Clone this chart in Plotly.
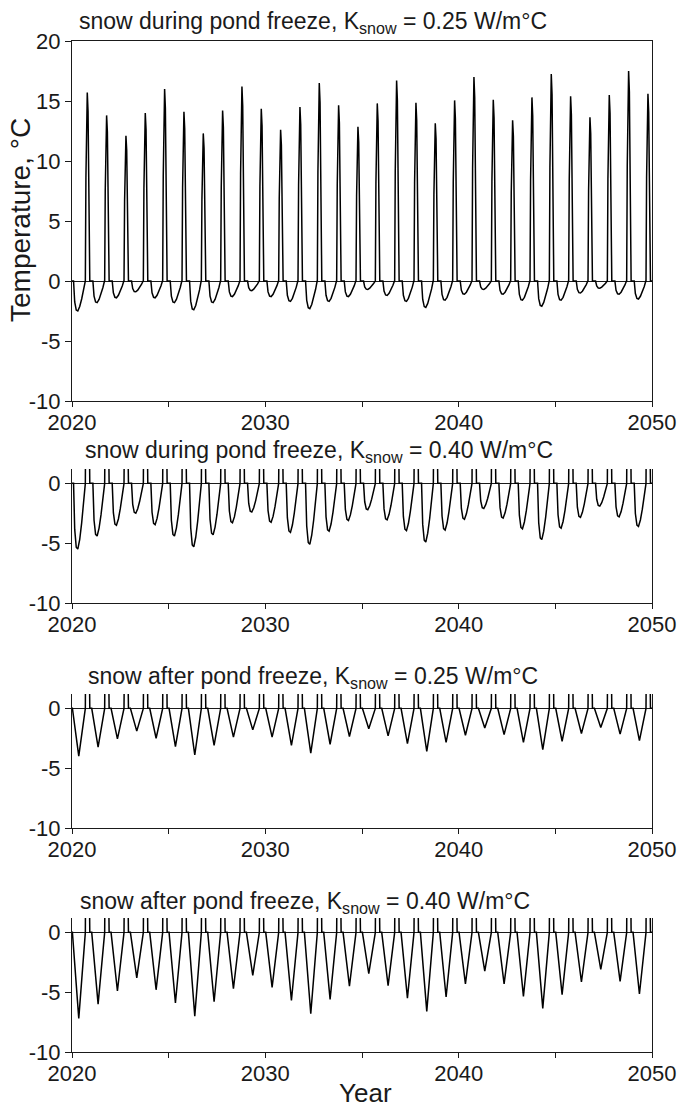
import plotly.graph_objects as go

# ---------------- data ----------------
years = list(range(2020, 2050))

# summer maximum temperature each year (top panel; same summers in all runs)
summer_peak = [15.7, 13.8, 12.1, 14.0, 16.0, 14.1, 12.3, 14.2, 16.2, 14.35,
               12.6, 14.5, 16.5, 14.65, 12.85, 14.8, 16.7, 14.85, 13.15, 15.05,
               17.0, 15.1, 13.4, 15.3, 17.25, 15.4, 13.65, 15.5, 17.5, 15.6]

# winter minimum temperature each year, one list per scenario
winter_min_during_025 = [-2.5, -1.8, -1.4, -0.9, -1.4, -1.8, -2.4, -1.8, -1.3, -0.8,
                         -1.3, -1.7, -2.3, -1.7, -1.3, -0.7, -1.2, -1.7, -2.2, -1.6,
                         -1.1, -0.7, -1.1, -1.6, -2.1, -1.6, -1.0, -0.6, -1.1, -1.5]
winter_min_during_040 = [-5.5, -4.4, -3.5, -2.5, -3.45, -4.4, -5.3, -4.3, -3.3, -2.4,
                         -3.25, -4.1, -5.1, -4.0, -3.1, -2.2, -3.05, -3.95, -4.9, -3.9,
                         -3.0, -2.1, -2.9, -3.8, -4.7, -3.75, -2.85, -1.9, -2.8, -3.6]
winter_min_after_025 = [-4.0, -3.25, -2.55, -1.9, -2.5, -3.2, -3.9, -3.1, -2.4, -1.8,
                        -2.4, -3.1, -3.75, -3.0, -2.35, -1.7, -2.3, -2.95, -3.6, -2.85,
                        -2.25, -1.65, -2.2, -2.85, -3.45, -2.75, -2.1, -1.6, -2.15, -2.7]
winter_min_after_040 = [-7.2, -6.0, -4.9, -3.8, -4.8, -5.9, -7.0, -5.8, -4.7, -3.6,
                        -4.6, -5.7, -6.8, -5.6, -4.5, -3.45, -4.45, -5.5, -6.6, -5.4,
                        -4.3, -3.25, -4.3, -5.35, -6.35, -5.2, -4.15, -3.1, -4.1, -5.15]

# annual cycle shape (fraction of the year, fraction of the extreme)
dip_during_t = [0.08, 0.14, 0.22, 0.30, 0.40, 0.50, 0.60, 0.68]
dip_during_f = [0.0, 0.70, 0.97, 1.0, 0.85, 0.60, 0.30, 0.0]
dip_after_t = [0.02, 0.35, 0.69]
dip_after_f = [0.0, 1.0, 0.0]
spike_t = [0.69, 0.72, 0.75, 0.79, 0.83, 0.87, 0.92]
spike_f = [0.0, 0.55, 0.90, 1.0, 0.90, 0.50, 0.0]

titles = ["snow during pond freeze, K<sub>snow</sub> = 0.25 W/m°C",
          "snow during pond freeze, K<sub>snow</sub> = 0.40 W/m°C",
          "snow after pond freeze, K<sub>snow</sub> = 0.25 W/m°C",
          "snow after pond freeze, K<sub>snow</sub> = 0.40 W/m°C"]

x_tickvals = [2020, 2030, 2040, 2050]
x_ticktext = ["2020", "2030", "2040", "2050"]
y_tickvals_top = [-10, -5, 0, 5, 10, 15, 20]
y_ticktext_top = ["-10", "-5", "0", "5", "10", "15", "20"]
y_tickvals_small = [-10, -5, 0]
y_ticktext_small = ["-10", "-5", "0"]


def build_series(mins, dip_t, dip_f):
    xs, ys = [2020.0], [0.0]
    for yr, mn, pk in zip(years, mins, summer_peak):
        for t, f in zip(dip_t, dip_f):
            xs.append(yr + t)
            ys.append(f * mn)
        for t, f in zip(spike_t, spike_f):
            xs.append(yr + t)
            ys.append(f * pk)
    xs.append(2050.0)
    ys.append(0.0)
    return xs, ys


series = [
    build_series(winter_min_during_025, dip_during_t, dip_during_f),
    build_series(winter_min_during_040, dip_during_t, dip_during_f),
    build_series(winter_min_after_025, dip_after_t, dip_after_f),
    build_series(winter_min_after_040, dip_after_t, dip_after_f),
]

# ---------------- layout ----------------
W, H = 686, 1110
FONT = "Liberation Sans, Arial, Helvetica, sans-serif"
INK = "#1a1a1a"


def px(xp):
    return xp / W


def py(yp):
    return (H - yp) / H


x_left, x_right = 72, 652
panels_px = [(41, 401), (469, 603), (694, 828), (918, 1052)]  # (top, bottom) page px
y_ranges = [[-10, 20], [-10, 1.2], [-10, 1.2], [-10, 1.2]]
title_px = [(77, 22), (83, 452), (86, 677), (78, 902)]

fig = go.Figure()
for i, (xs, ys) in enumerate(series):
    sfx = "" if i == 0 else str(i + 1)
    fig.add_trace(go.Scatter(x=xs, y=ys, mode="lines",
                             line=dict(color="black", width=1.5),
                             xaxis="x" + sfx, yaxis="y" + sfx,
                             showlegend=False, hoverinfo="skip"))

layout = dict(width=W, height=H, autosize=False,
              margin=dict(l=0, r=0, t=0, b=0),
              paper_bgcolor="white", plot_bgcolor="white",
              font=dict(family=FONT, color=INK, size=22),
              showlegend=False)

for i in range(4):
    sfx = "" if i == 0 else str(i + 1)
    top, bot = panels_px[i]
    ydom = [py(bot), py(top)]
    xdom = [px(x_left), px(x_right)]
    layout["xaxis" + sfx] = dict(
        domain=xdom, anchor="y" + sfx, range=[2020, 2050], automargin=False,
        tickmode="array", tickvals=x_tickvals, ticktext=x_ticktext,
        ticks="outside", ticklen=5, tickwidth=1.3, tickcolor=INK,
        ticklabelstandoff=-4,
        minor=dict(tick0=2020, dtick=5, ticks="outside", ticklen=5,
                   tickwidth=1.3, tickcolor=INK, showgrid=False),
        showline=True, linecolor=INK, linewidth=1.3,
        mirror=(i == 0), showgrid=False, zeroline=False,
        tickfont=dict(size=22, family=FONT, color=INK), fixedrange=True)
    layout["yaxis" + sfx] = dict(
        domain=ydom, anchor="x" + sfx, range=y_ranges[i], automargin=False,
        tickmode="array",
        tickvals=y_tickvals_top if i == 0 else y_tickvals_small,
        ticktext=y_ticktext_top if i == 0 else y_ticktext_small,
        ticks="outside", ticklen=6, tickwidth=1.3, tickcolor=INK,
        showline=True, linecolor=INK, linewidth=1.3, mirror=True,
        showgrid=False, zeroline=True, zerolinecolor=INK, zerolinewidth=1.3,
        tickfont=dict(size=22, family=FONT, color=INK), fixedrange=True)

annotations = []
for i in range(4):
    tx, ty = title_px[i]
    annotations.append(dict(text=titles[i], xref="paper", yref="paper",
                            x=px(tx), y=py(ty), xanchor="left", yanchor="middle",
                            showarrow=False, font=dict(size=23, family=FONT, color=INK)))
annotations.append(dict(text="Temperature, °C", xref="paper", yref="paper",
                        x=px(21), y=py(220), xanchor="center", yanchor="middle",
                        textangle=-90, showarrow=False,
                        font=dict(size=28, family=FONT, color=INK)))
annotations.append(dict(text="Year", xref="paper", yref="paper",
                        x=px(365), y=py(1093), xanchor="center", yanchor="middle",
                        showarrow=False, font=dict(size=26, family=FONT, color=INK)))
layout["annotations"] = annotations

fig.update_layout(**layout)
fig.write_html("out.html",
               config={"displayModeBar": False},
               post_script="document.body.style.margin='0';"
                           "document.body.style.overflow='hidden';")
